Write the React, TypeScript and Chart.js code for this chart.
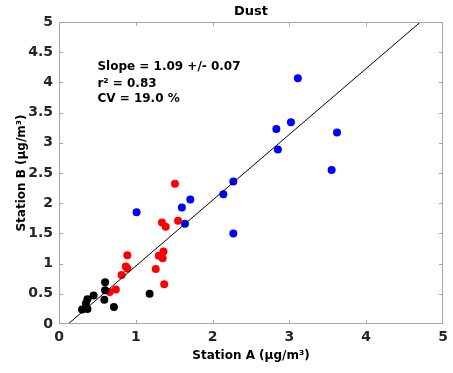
import React, { useEffect, useRef } from "react";
import { Chart, registerables } from "chart.js";

Chart.register(...registerables);

const blackA = [0.3, 0.37, 0.35, 0.37, 0.45, 0.6, 0.6, 0.59, 0.715, 1.18];
const blackB = [0.24, 0.25, 0.34, 0.41, 0.47, 0.69, 0.56, 0.4, 0.28, 0.5];
const redA = [0.66, 0.74, 0.815, 0.87, 0.89, 0.89, 1.26, 1.3, 1.35, 1.36, 1.37, 1.34, 1.39, 1.55, 1.51];
const redB = [0.53, 0.57, 0.81, 0.95, 0.92, 1.14, 0.91, 1.13, 1.09, 1.2, 0.66, 1.68, 1.61, 1.71, 2.32];
const blueA = [1.01, 1.6, 1.71, 1.64, 2.14, 2.27, 2.27, 3.11, 2.83, 3.02, 2.85, 3.62, 3.55];
const blueB = [1.85, 1.93, 2.06, 1.66, 2.15, 2.36, 1.5, 4.07, 3.23, 3.34, 2.89, 3.17, 2.55];
const fitSlope = 1.09;
const fitIntercept = -0.13;
const axisMin = 0;
const axisMax = 5;
const statLines = ["Slope = 1.09 +/- 0.07", "r² = 0.83", "CV = 19.0 %"];
const titleText = "Dust";
const xTitle = "Station A (μg/m³)";
const yTitle = "Station B (μg/m³)";

const FONT = "'DejaVu Sans', sans-serif";

function pts(a: number[], b: number[]) {
  return a.map((x, i) => ({ x, y: b[i] }));
}

export default function App() {
  const ref = useRef<HTMLCanvasElement | null>(null);
  useEffect(() => {
    document.body.style.margin = "0";
    const canvas = ref.current!;
    const fitX0 = Math.max(axisMin, (axisMin - fitIntercept) / fitSlope);
    const fitX1 = Math.min(axisMax, (axisMax - fitIntercept) / fitSlope);
    const decor = {
      id: "decor",
      afterDraw(chart: any) {
        const ctx = chart.ctx;
        const { left, right, top, bottom } = chart.chartArea;
        const xs = chart.scales.x;
        const ys = chart.scales.y;
        ctx.save();
        ctx.strokeStyle = "#a6a6a6";
        ctx.lineWidth = 1;
        ctx.strokeRect(left + 0.5, top + 0.5, right - left - 1, bottom - top - 1);
        ctx.beginPath();
        for (let v = 1; v < 5; v++) {
          const px = Math.round(xs.getPixelForValue(v)) + 0.5;
          ctx.moveTo(px, bottom);
          ctx.lineTo(px, bottom - 4);
          ctx.moveTo(px, top);
          ctx.lineTo(px, top + 4);
        }
        for (let v = 0.5; v < 5; v += 0.5) {
          const py = Math.round(ys.getPixelForValue(v)) + 0.5;
          ctx.moveTo(left, py);
          ctx.lineTo(left + 4, py);
          ctx.moveTo(right, py);
          ctx.lineTo(right - 4, py);
        }
        ctx.stroke();
        ctx.fillStyle = "#000";
        ctx.font = `bold 13px ${FONT}`;
        ctx.textAlign = "center";
        ctx.textBaseline = "middle";
        ctx.fillText(titleText, (left + right) / 2, 12);
        ctx.font = `bold 12px ${FONT}`;
        ctx.fillText(xTitle, (left + right) / 2, 356);
        ctx.save();
        ctx.translate(22, (top + bottom) / 2);
        ctx.rotate(-Math.PI / 2);
        ctx.fillText(yTitle, 0, 0);
        ctx.restore();
        ctx.textAlign = "left";
        ctx.font = `bold 12px ${FONT}`;
        const tx = xs.getPixelForValue(0.5);
        const yv = [4.26, 3.97, 3.73];
        statLines.forEach((s, i) => ctx.fillText(s, tx, ys.getPixelForValue(yv[i])));
        ctx.restore();
      },
    };
    const chart = new Chart(canvas, {
      type: "scatter",
      data: {
        datasets: [
          {
            type: "line",
            data: [
              { x: fitX0, y: fitSlope * fitX0 + fitIntercept },
              { x: fitX1, y: fitSlope * fitX1 + fitIntercept },
            ],
            borderColor: "#000",
            borderWidth: 1,
            pointRadius: 0,
            fill: false,
          } as any,
          { data: pts(blackA, blackB), backgroundColor: "#000", borderWidth: 0, pointRadius: 4 },
          { data: pts(redA, redB), backgroundColor: "#ff0000", borderWidth: 0, pointRadius: 4 },
          { data: pts(blueA, blueB), backgroundColor: "#0000ff", borderWidth: 0, pointRadius: 4 },
        ],
      },
      options: {
        animation: false,
        responsive: false,
        layout: { padding: { top: 22, right: 10, left: 0, bottom: 0 } },
        plugins: { legend: { display: false }, tooltip: { enabled: false } },
        scales: {
          x: {
            type: "linear",
            min: axisMin,
            max: axisMax,
            border: { display: false },
            grid: { display: false, drawTicks: false },
            ticks: { stepSize: 1, padding: 5, color: "#262626", font: { family: FONT, size: 14, weight: "bold" } },
            afterFit: (s: any) => { s.height = 49; },
          },
          y: {
            type: "linear",
            min: axisMin,
            max: axisMax,
            border: { display: false },
            grid: { display: false, drawTicks: false },
            ticks: {
              stepSize: 0.5,
              padding: 6,
              color: "#262626",
              font: { family: FONT, size: 14, weight: "bold" },
              callback: (v: any) => String(v),
            },
            afterFit: (s: any) => { s.width = 59; },
          },
        },
      } as any,
      plugins: [decor],
    });
    return () => chart.destroy();
  }, []);
  return <canvas ref={ref} width={453} height={373} style={{ display: "block" }} />;
}
